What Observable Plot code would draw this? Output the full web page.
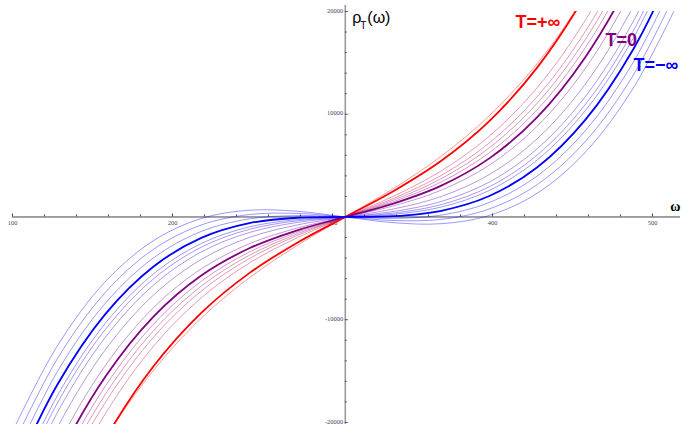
<!DOCTYPE html>
<html><head><meta charset="utf-8">
<script src="https://cdn.jsdelivr.net/npm/d3@7"></script>
<script src="https://cdn.jsdelivr.net/npm/@observablehq/plot@0.6"></script>
<style>html,body{margin:0;padding:0;background:#fff}svg{display:block}</style>
</head><body><div id="chart"></div>
<script>
// ω sample positions (curves all pass through ω0 ≈ 308, where the axes cross)
const omega = [98, 128, 158, 188, 218, 248, 278, 308, 338, 368, 398, 428, 458, 488, 518];
const omega0 = 308;

// ρ_T(ω) values, one array per curve (T = +∞ … T = 0 … T = −∞ and beyond)
const sRed    = [-42941, -30910, -21600, -14558, -9331, -5465, -2506, 0, 2506, 5465, 9331, 14558, 21600, 30910, 42941];
const sR1     = [-41126, -30197, -21600, -14947, -9850, -5918, -2765, 0, 2765, 5918, 9850, 14947, 21600, 30197, 41126];
const sR2     = [-39518, -27976, -19155, -12602, -7864, -4487, -2017, 0, 2017, 4487, 7864, 12602, 19155, 27976, 39518];
const sR3     = [-37985, -26662, -18060, -11726, -7207, -4049, -1798, 0, 1798, 4049, 7207, 11726, 18060, 26662, 37985];
const sR4     = [-36872, -25708, -17265, -11090, -6730, -3731, -1639, 0, 1639, 3731, 6730, 11090, 17265, 25708, 36872];
const sR5     = [-35759, -24754, -16470, -10454, -6253, -3413, -1480, 0, 1480, 3413, 6253, 10454, 16470, 24754, 35759];
const sPurple = [-34478, -23656, -15555, -9722, -5704, -3047, -1297, 0, 1297, 3047, 5704, 9722, 15555, 23656, 34478];
const sP1     = [-32945, -22342, -14460, -8846, -5047, -2609, -1078, 0, 1078, 2609, 5047, 8846, 14460, 22342, 32945];
const sP2     = [-30803, -20506, -12930, -7622, -4129, -1997, -772, 0, 772, 1997, 4129, 7622, 12930, 20506, 30803];
const sP3     = [-29102, -19048, -11715, -6650, -3400, -1511, -529, 0, 529, 1511, 3400, 6650, 11715, 19048, 29102];
const sP4     = [-28031, -18130, -10950, -6038, -2941, -1205, -376, 0, 376, 1205, 2941, 6038, 10950, 18130, 28031];
const sP5     = [-27191, -17410, -10350, -5558, -2581, -965, -256, 0, 256, 965, 2581, 5558, 10350, 17410, 27191];
const sBlue   = [-25931, -16330, -9450, -4838, -2041, -605, -76, 0, 76, 605, 2041, 4838, 9450, 16330, 25931];
const sB1     = [-24461, -15070, -8400, -3998, -1411, -185, 134, 0, -134, 185, 1411, 3998, 8400, 15070, 24461];
const sB2     = [-22991, -13810, -7350, -3158, -781, 235, 344, 0, -344, -235, 781, 3158, 7350, 13810, 22991];
const sB3     = [-21521, -12550, -6300, -2318, -151, 655, 554, 0, -554, -655, 151, 2318, 6300, 12550, 21521];

const seriesNames  = ["T=+∞", "r1", "r2", "r3", "r4", "r5", "T=0", "p1", "p2", "p3", "p4", "p5", "T=−∞", "b1", "b2", "b3"];
const seriesValues = [sRed, sR1, sR2, sR3, sR4, sR5, sPurple, sP1, sP2, sP3, sP4, sP5, sBlue, sB1, sB2, sB3];
const seriesColors = ["#ff0000", "#ff0000", "#cc0033", "#b4004c", "#a4005c", "#93006d", "#800080",
                      "#690097", "#4900b6", "#2f00cf", "#2000df", "#1300ec", "#0000ff", "#0000ff", "#0000ff", "#0000ff"];
const thickSeries = ["T=+∞", "T=0", "T=−∞"];

// ticks and labels
const xMajor = [100, 200, 300, 400, 500];
const xMinor = [120, 140, 160, 180, 220, 240, 260, 280, 320, 340, 360, 380, 420, 440, 460, 480];
const yMajor = [-20000, -10000, 10000, 20000];
const yMinor = [-18000, -16000, -14000, -12000, -8000, -6000, -4000, -2000, 2000, 4000, 6000, 8000, 12000, 14000, 16000, 18000];
const xLabels = [100, 200, 300, 400, 500];
const yLabels = [20000, 10000, -10000, -20000];

const rows = seriesNames.flatMap((name, k) =>
  omega.map((w, i) => ({omega: w, rho: seriesValues[k][i], series: name, color: seriesColors[k]})));
const isThick = d => thickSeries.includes(d.series);

const tickFont = {fontFamily: "Liberation Serif", fontSize: 6.5, fill: "#3b4466"};

const chart = Plot.plot({
  width: 682, height: 424,
  marginLeft: 12, marginRight: 2, marginTop: 11, marginBottom: 0,
  x: {domain: [100, 517.5], axis: null},
  y: {domain: [-20200, 20000], axis: null},
  style: {background: "white", fontFamily: "Liberation Sans"},
  marks: [
    // axes through the origin
    Plot.ruleX([omega0], {stroke: "#9a9a9a", strokeWidth: 1.6, insetTop: -6}),
    Plot.ruleY([0], {stroke: "#444", strokeWidth: 1}),
    Plot.ruleX(xMajor, {x: d => d, y1: 0, y2: 0, insetTop: -3, stroke: "#444"}),
    Plot.ruleX(xMinor, {x: d => d, y1: 0, y2: 0, insetTop: -2, stroke: "#444"}),
    Plot.ruleY(yMajor, {y: d => d, x1: omega0, x2: omega0, insetRight: -3, stroke: "#555"}),
    Plot.ruleY(yMinor, {y: d => d, x1: omega0, x2: omega0, insetRight: -2, stroke: "#555"}),
    Plot.text(xLabels, {x: d => d, y: 0, dy: 6, text: d => String(d), ...tickFont}),
    Plot.text(yLabels, {x: omega0, y: d => d, dx: -2, dy: -1, textAnchor: "end", text: d => String(d), ...tickFont}),
    // curves
    Plot.line(rows.filter(d => !isThick(d)), {x: "omega", y: "rho", z: "series", stroke: "color",
      strokeWidth: 1, strokeOpacity: 0.4, curve: "catmull-rom", clip: true}),
    Plot.line(rows.filter(isThick), {x: "omega", y: "rho", z: "series", stroke: "color",
      strokeWidth: 1.8, curve: "catmull-rom", clip: true}),
    // axis titles
    Plot.text(["ρ"], {x: omega0, frameAnchor: "top", dx: 7, dy: 11, lineAnchor: "bottom", textAnchor: "start",
      fontSize: 16, fontFamily: "Liberation Sans", fill: "black"}),
    Plot.text(["T"], {x: omega0, frameAnchor: "top", dx: 15, dy: 17, lineAnchor: "bottom", textAnchor: "start",
      fontSize: 10, fontFamily: "Liberation Sans", fill: "black"}),
    Plot.text(["(ω)"], {x: omega0, frameAnchor: "top", dx: 22, dy: 11, lineAnchor: "bottom", textAnchor: "start",
      fontSize: 16, fontFamily: "Liberation Sans", fill: "black"}),
    Plot.text(["ω"], {y: 0, frameAnchor: "right", dy: -10, textAnchor: "end", fontSize: 14,
      fontWeight: "bold", fontFamily: "Liberation Serif", fill: "black"}),
    // curve labels
    Plot.text(["T=+∞"], {frameAnchor: "top-right", dx: -165, dy: 16, lineAnchor: "bottom", textAnchor: "start",
      fontSize: 18, fontWeight: "bold", fill: "#ff0000"}),
    Plot.text(["T=0"], {frameAnchor: "top-right", dx: -75, dy: 34, lineAnchor: "bottom", textAnchor: "start",
      fontSize: 18, fontWeight: "bold", fill: "#800080"}),
    Plot.text(["T=−∞"], {frameAnchor: "top-right", dx: -47, dy: 59, lineAnchor: "bottom", textAnchor: "start",
      fontSize: 18, fontWeight: "bold", fill: "#0000ff"})
  ]
});
document.getElementById("chart").append(chart);
</script>
</body></html>
